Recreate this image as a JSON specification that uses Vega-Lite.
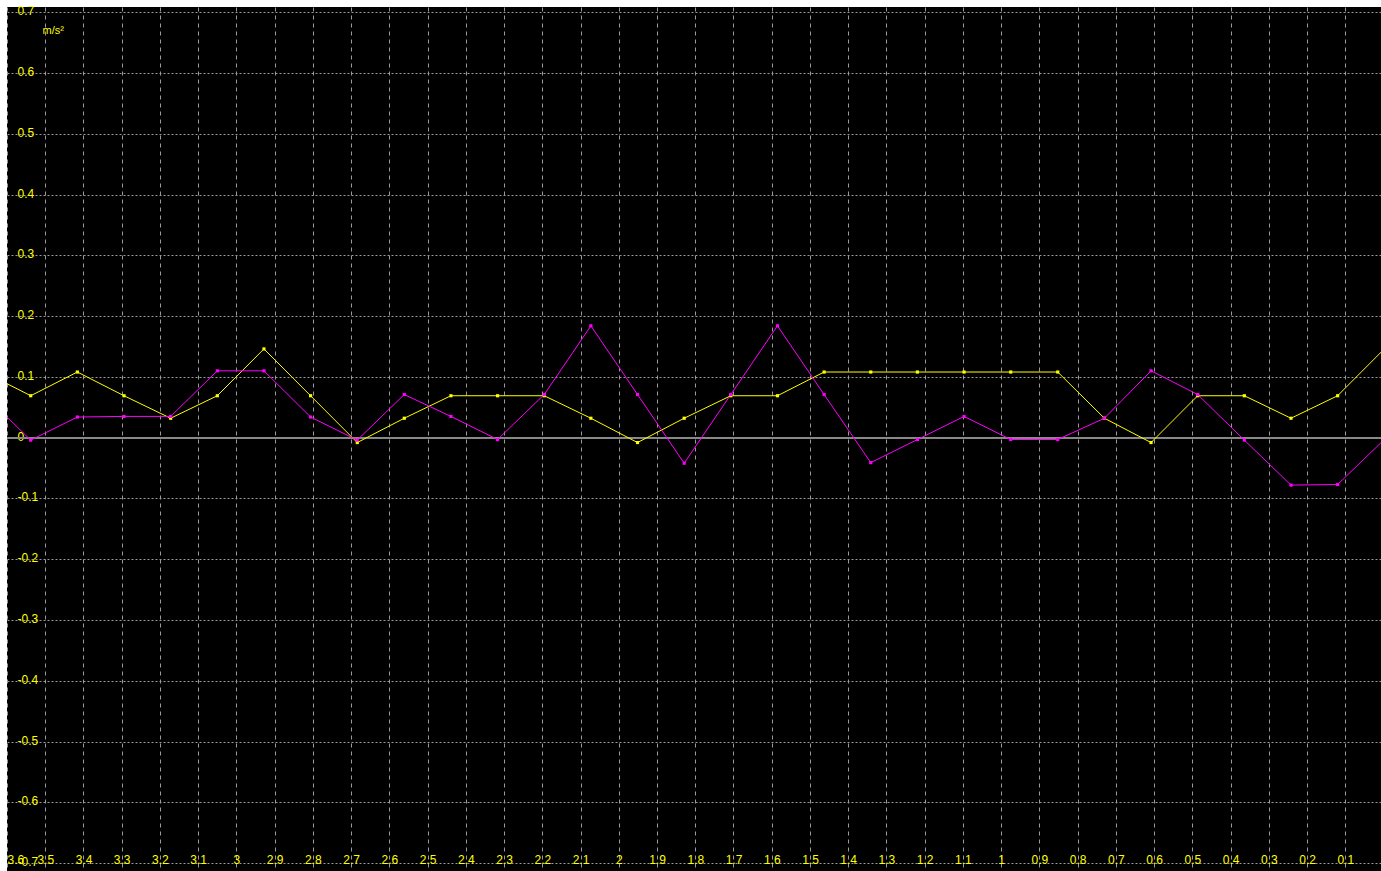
{
  "$schema": "https://vega.github.io/schema/vega-lite/v6.json",
  "width": 1374,
  "height": 864,
  "autosize": {"type": "none"},
  "padding": {"left": 7, "top": 7, "right": 0, "bottom": 0},
  "background": "white",
  "config": {
    "view": {"fill": "black", "stroke": null},
    "font": "Liberation Sans"
  },
  "data": {
    "values": [
      {"t": 3.660, "s": "A", "v": 0.108},
      {"t": 3.538, "s": "A", "v": 0.069},
      {"t": 3.416, "s": "A", "v": 0.108},
      {"t": 3.294, "s": "A", "v": 0.069},
      {"t": 3.172, "s": "A", "v": 0.032},
      {"t": 3.050, "s": "A", "v": 0.069},
      {"t": 2.928, "s": "A", "v": 0.146},
      {"t": 2.806, "s": "A", "v": 0.069},
      {"t": 2.684, "s": "A", "v": -0.008},
      {"t": 2.561, "s": "A", "v": 0.032},
      {"t": 2.439, "s": "A", "v": 0.069},
      {"t": 2.317, "s": "A", "v": 0.069},
      {"t": 2.195, "s": "A", "v": 0.069},
      {"t": 2.073, "s": "A", "v": 0.032},
      {"t": 1.951, "s": "A", "v": -0.008},
      {"t": 1.829, "s": "A", "v": 0.032},
      {"t": 1.707, "s": "A", "v": 0.069},
      {"t": 1.585, "s": "A", "v": 0.069},
      {"t": 1.463, "s": "A", "v": 0.108},
      {"t": 1.341, "s": "A", "v": 0.108},
      {"t": 1.219, "s": "A", "v": 0.108},
      {"t": 1.097, "s": "A", "v": 0.108},
      {"t": 0.975, "s": "A", "v": 0.108},
      {"t": 0.852, "s": "A", "v": 0.108},
      {"t": 0.730, "s": "A", "v": 0.032},
      {"t": 0.608, "s": "A", "v": -0.008},
      {"t": 0.486, "s": "A", "v": 0.069},
      {"t": 0.364, "s": "A", "v": 0.069},
      {"t": 0.242, "s": "A", "v": 0.032},
      {"t": 0.120, "s": "A", "v": 0.069},
      {"t": -0.002, "s": "A", "v": 0.146},
      {"t": 3.660, "s": "B", "v": 0.071},
      {"t": 3.538, "s": "B", "v": -0.004},
      {"t": 3.416, "s": "B", "v": 0.034},
      {"t": 3.294, "s": "B", "v": 0.035},
      {"t": 3.172, "s": "B", "v": 0.035},
      {"t": 3.050, "s": "B", "v": 0.110},
      {"t": 2.928, "s": "B", "v": 0.110},
      {"t": 2.806, "s": "B", "v": 0.034},
      {"t": 2.684, "s": "B", "v": -0.004},
      {"t": 2.561, "s": "B", "v": 0.071},
      {"t": 2.439, "s": "B", "v": 0.035},
      {"t": 2.317, "s": "B", "v": -0.003},
      {"t": 2.195, "s": "B", "v": 0.071},
      {"t": 2.073, "s": "B", "v": 0.184},
      {"t": 1.951, "s": "B", "v": 0.071},
      {"t": 1.829, "s": "B", "v": -0.042},
      {"t": 1.707, "s": "B", "v": 0.071},
      {"t": 1.585, "s": "B", "v": 0.184},
      {"t": 1.463, "s": "B", "v": 0.071},
      {"t": 1.341, "s": "B", "v": -0.041},
      {"t": 1.219, "s": "B", "v": -0.003},
      {"t": 1.097, "s": "B", "v": 0.035},
      {"t": 0.975, "s": "B", "v": -0.003},
      {"t": 0.852, "s": "B", "v": -0.003},
      {"t": 0.730, "s": "B", "v": 0.032},
      {"t": 0.608, "s": "B", "v": 0.110},
      {"t": 0.486, "s": "B", "v": 0.071},
      {"t": 0.364, "s": "B", "v": -0.004},
      {"t": 0.242, "s": "B", "v": -0.078},
      {"t": 0.120, "s": "B", "v": -0.077},
      {"t": -0.002, "s": "B", "v": -0.003}
    ]
  },
  "encoding": {
    "x": {
      "field": "t",
      "type": "quantitative",
      "scale": {"domain": [3.6, 0.0066], "nice": false, "zero": false},
      "axis": {
        "orient": "bottom",
        "title": null,
        "values": [3.6, 3.5, 3.4, 3.3, 3.2, 3.1, 3, 2.9, 2.8, 2.7, 2.6, 2.5, 2.4, 2.3, 2.2, 2.1, 2, 1.9, 1.8, 1.7, 1.6, 1.5, 1.4, 1.3, 1.2, 1.1, 1, 0.9, 0.8, 0.7, 0.6, 0.5, 0.4, 0.3, 0.2, 0.1, 0],
        "labelExpr": "'' + datum.value",
        "domain": false,
        "ticks": false,
        "labelPadding": -8,
        "labelBaseline": "alphabetic",
        "labelFlush": true,
        "labelOverlap": false,
        "labelColor": "#ffff00",
        "labelFont": "Liberation Sans",
        "labelFontSize": 12,
        "grid": true,
        "gridColor": "#9a9a9a",
        "gridDash": [4, 4],
        "gridWidth": 1
      }
    },
    "y": {
      "field": "v",
      "type": "quantitative",
      "scale": {"domain": [-0.7127, 0.7084], "nice": false, "zero": false},
      "axis": {
        "orient": "left",
        "values": [-0.7, -0.6, -0.5, -0.4, -0.3, -0.2, -0.1, 0, 0.1, 0.2, 0.3, 0.4, 0.5, 0.6, 0.7],
        "labelExpr": "'' + datum.value",
        "domain": false,
        "ticks": false,
        "labelPadding": -10,
        "labelAlign": "left",
        "labelBaseline": "alphabetic",
        "labelOffset": 2.5,
        "labelOverlap": false,
        "labelColor": "#ffff00",
        "labelFont": "Liberation Sans",
        "labelFontSize": 12,
        "grid": true,
        "gridColor": "#9a9a9a",
        "gridDash": [2, 2],
        "gridWidth": 1,
        "title": "m/s²",
        "titleAngle": 0,
        "titleAlign": "left",
        "titleBaseline": "alphabetic",
        "titleX": 35,
        "titleY": 26,
        "titleColor": "#ffff00",
        "titleFont": "Liberation Sans",
        "titleFontSize": 11,
        "titleFontWeight": "normal"
      }
    },
    "color": {
      "field": "s",
      "type": "nominal",
      "scale": {"domain": ["A", "B"], "range": ["#ffff00", "#ff00ff"]},
      "legend": null
    }
  },
  "layer": [
    {
      "mark": {"type": "rule", "color": "#8a8a8a", "strokeWidth": 1},
      "encoding": {"y": {"datum": 0}, "x": null, "color": null}
    },
    {
      "mark": {"type": "line", "strokeWidth": 1, "clip": true}
    },
    {
      "mark": {"type": "point", "shape": "square", "filled": true, "size": 10, "opacity": 1, "clip": true}
    }
  ]
}
